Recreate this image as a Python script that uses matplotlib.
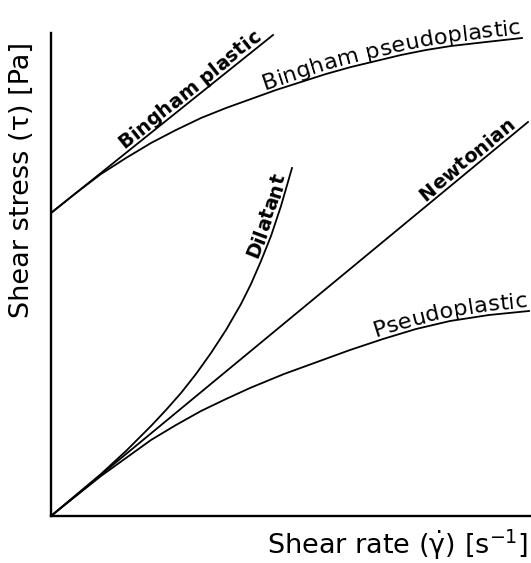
import numpy as np
import matplotlib
matplotlib.use("Agg")
import matplotlib.pyplot as plt
from matplotlib.font_manager import FontProperties
from matplotlib.transforms import IdentityTransform

# curves (shear rate vs shear stress, arbitrary units)
newtonian_x = [0, 477]
newtonian_y = [0, 394]

bingham_plastic_x = [0, 222]
bingham_plastic_y = [303, 481]

bingham_pseudo_x = [0, 25, 50, 75, 100, 125, 150, 175, 200, 225, 250, 275, 300, 325, 350, 375, 400, 435, 471]
bingham_pseudo_y = [303, 323, 342, 358, 373, 386, 398, 408, 417, 426, 434, 442, 449, 455, 461, 466, 470, 474, 478]

pseudoplastic_x = [0, 25, 50, 75, 100, 125, 150, 175, 199, 233, 266, 299, 332, 365, 399, 438, 478]
pseudoplastic_y = [0, 20, 40, 58, 76, 91, 105, 117, 128, 142, 154, 166, 177, 187, 195, 201, 205]

dilatant_x = [0, 25, 50, 75, 100, 115, 130, 145, 160, 175, 190, 200, 210, 220, 230, 241]
dilatant_y = [0, 21, 42, 65, 90, 106, 123, 142, 163, 186, 212, 232, 255, 280, 310, 348]


def text_along(ax, xs, ys, label, x_start, offset=4, size=15, weight="normal"):
    # put each letter of the label on the curve, rotated to follow it
    fig = ax.figure
    rend = fig.canvas.get_renderer()
    prop = FontProperties(family="DejaVu Sans", size=size, weight=weight)
    pts = ax.transData.transform(np.column_stack([xs, ys]))
    arc = np.concatenate([[0], np.cumsum(np.hypot(np.diff(pts[:, 0]), np.diff(pts[:, 1])))])
    s0 = np.interp(x_start, xs, arc)

    def width(s):
        return rend.get_text_width_height_descent(s, prop, ismath=False)[0]

    for i, ch in enumerate(label):
        if ch == " ":
            continue
        c = s0 + width(label[:i + 1]) - width(ch) / 2
        p = np.array([np.interp(c, arc, pts[:, 0]), np.interp(c, arc, pts[:, 1])])
        a = np.interp(c + 12, arc, pts[:, 0]) - np.interp(c - 12, arc, pts[:, 0])
        b = np.interp(c + 12, arc, pts[:, 1]) - np.interp(c - 12, arc, pts[:, 1])
        ang = np.arctan2(b, a)
        p = p + offset * np.array([-np.sin(ang), np.cos(ang)])
        ax.text(p[0], p[1], ch, transform=IdentityTransform(), fontproperties=prop,
                rotation=np.degrees(ang), rotation_mode="anchor",
                ha="center", va="baseline")


fig = plt.figure(figsize=(5.31, 5.63), dpi=100)
ax = fig.add_axes([51 / 531, 47 / 563, 480 / 531, 483 / 563])
ax.set_xlim(0, 480)
ax.set_ylim(0, 483)

lw = 1.3
ax.plot(newtonian_x, newtonian_y, color="black", lw=lw)
ax.plot(bingham_plastic_x, bingham_plastic_y, color="black", lw=lw)
ax.plot(bingham_pseudo_x, bingham_pseudo_y, color="black", lw=lw)
ax.plot(pseudoplastic_x, pseudoplastic_y, color="black", lw=lw)
ax.plot(dilatant_x, dilatant_y, color="black", lw=lw)

ax.spines["top"].set_visible(False)
ax.spines["right"].set_visible(False)
ax.spines["left"].set_linewidth(1.7)
ax.spines["bottom"].set_linewidth(1.7)
ax.set_xticks([])
ax.set_yticks([])

text_along(ax, bingham_plastic_x, bingham_plastic_y, "Bingham plastic", 76, size=14, weight="bold")
text_along(ax, newtonian_x, newtonian_y, "Newtonian", 377, size=14, weight="bold")
text_along(ax, dilatant_x, dilatant_y, "Dilatant", 210, size=14, weight="bold")
text_along(ax, bingham_pseudo_x, bingham_pseudo_y, "Bingham pseudoplastic", 215, size=16.2)
text_along(ax, pseudoplastic_x, pseudoplastic_y, "Pseudoplastic", 326, size=16.2)

fig.text(22 / 531, (563 - 180) / 563, "Shear stress (τ) [Pa]", rotation=90,
         ha="center", va="center", fontsize=19.5)
fig.text(528 / 531, 9 / 563, r"Shear rate ($\mathrm{\dot{\gamma}}$) [s$^{-1}$]",
         ha="right", va="baseline", fontsize=19.5)

fig.savefig("out.png", dpi=100)
